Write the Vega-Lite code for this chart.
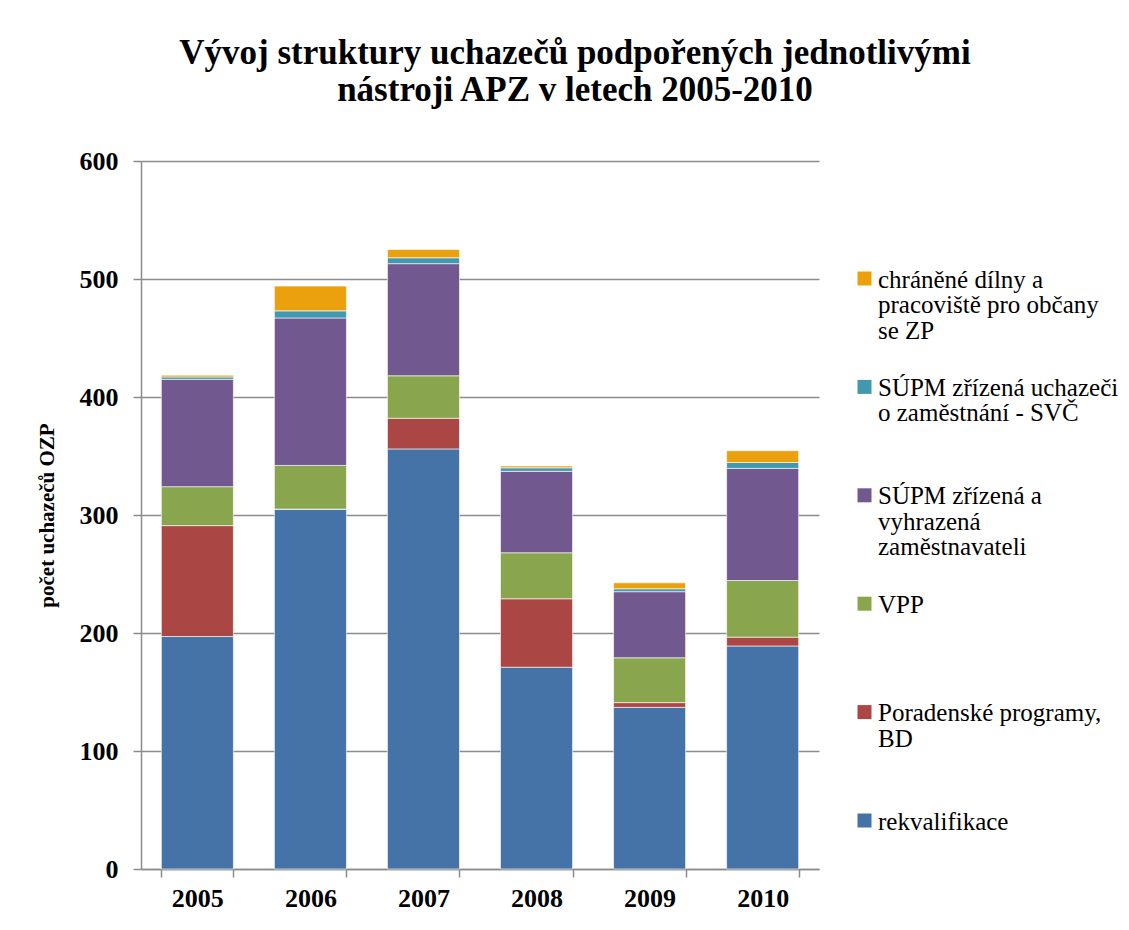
{
  "$schema": "https://vega.github.io/schema/vega-lite/v6.json",
  "width": 678,
  "height": 708,
  "autosize": {"type": "none"},
  "padding": {"left": 141, "top": 161, "right": 310, "bottom": 61},
  "background": "white",
  "title": {
    "text": ["Vývoj struktury uchazečů podpořených jednotlivými", "nástroji APZ v letech 2005-2010"],
    "font": "Liberation Serif",
    "fontSize": 35,
    "fontWeight": "bold",
    "color": "black",
    "anchor": "middle",
    "dx": 95,
    "lineHeight": 37,
    "offset": 40
  },
  "data": {
    "values": [
      {"rok": "2005", "kategorie": "rekvalifikace", "poradi": 1, "pocet": 197},
      {"rok": "2005", "kategorie": "Poradenské programy, BD", "poradi": 2, "pocet": 94},
      {"rok": "2005", "kategorie": "VPP", "poradi": 3, "pocet": 33},
      {"rok": "2005", "kategorie": "SÚPM zřízená a vyhrazená zaměstnavateli", "poradi": 4, "pocet": 91},
      {"rok": "2005", "kategorie": "SÚPM zřízená uchazeči o zaměstnání - SVČ", "poradi": 5, "pocet": 2},
      {"rok": "2005", "kategorie": "chráněné dílny a pracoviště pro občany se ZP", "poradi": 6, "pocet": 1.5},
      {"rok": "2006", "kategorie": "rekvalifikace", "poradi": 1, "pocet": 305},
      {"rok": "2006", "kategorie": "Poradenské programy, BD", "poradi": 2, "pocet": 0},
      {"rok": "2006", "kategorie": "VPP", "poradi": 3, "pocet": 37},
      {"rok": "2006", "kategorie": "SÚPM zřízená a vyhrazená zaměstnavateli", "poradi": 4, "pocet": 125},
      {"rok": "2006", "kategorie": "SÚPM zřízená uchazeči o zaměstnání - SVČ", "poradi": 5, "pocet": 6},
      {"rok": "2006", "kategorie": "chráněné dílny a pracoviště pro občany se ZP", "poradi": 6, "pocet": 21},
      {"rok": "2007", "kategorie": "rekvalifikace", "poradi": 1, "pocet": 356},
      {"rok": "2007", "kategorie": "Poradenské programy, BD", "poradi": 2, "pocet": 26},
      {"rok": "2007", "kategorie": "VPP", "poradi": 3, "pocet": 36},
      {"rok": "2007", "kategorie": "SÚPM zřízená a vyhrazená zaměstnavateli", "poradi": 4, "pocet": 95},
      {"rok": "2007", "kategorie": "SÚPM zřízená uchazeči o zaměstnání - SVČ", "poradi": 5, "pocet": 5},
      {"rok": "2007", "kategorie": "chráněné dílny a pracoviště pro občany se ZP", "poradi": 6, "pocet": 7},
      {"rok": "2008", "kategorie": "rekvalifikace", "poradi": 1, "pocet": 171},
      {"rok": "2008", "kategorie": "Poradenské programy, BD", "poradi": 2, "pocet": 58},
      {"rok": "2008", "kategorie": "VPP", "poradi": 3, "pocet": 39},
      {"rok": "2008", "kategorie": "SÚPM zřízená a vyhrazená zaměstnavateli", "poradi": 4, "pocet": 69},
      {"rok": "2008", "kategorie": "SÚPM zřízená uchazeči o zaměstnání - SVČ", "poradi": 5, "pocet": 3},
      {"rok": "2008", "kategorie": "chráněné dílny a pracoviště pro občany se ZP", "poradi": 6, "pocet": 1.5},
      {"rok": "2009", "kategorie": "rekvalifikace", "poradi": 1, "pocet": 137},
      {"rok": "2009", "kategorie": "Poradenské programy, BD", "poradi": 2, "pocet": 4},
      {"rok": "2009", "kategorie": "VPP", "poradi": 3, "pocet": 38},
      {"rok": "2009", "kategorie": "SÚPM zřízená a vyhrazená zaměstnavateli", "poradi": 4, "pocet": 56},
      {"rok": "2009", "kategorie": "SÚPM zřízená uchazeči o zaměstnání - SVČ", "poradi": 5, "pocet": 2.5},
      {"rok": "2009", "kategorie": "chráněné dílny a pracoviště pro občany se ZP", "poradi": 6, "pocet": 5},
      {"rok": "2010", "kategorie": "rekvalifikace", "poradi": 1, "pocet": 189},
      {"rok": "2010", "kategorie": "Poradenské programy, BD", "poradi": 2, "pocet": 7.5},
      {"rok": "2010", "kategorie": "VPP", "poradi": 3, "pocet": 48},
      {"rok": "2010", "kategorie": "SÚPM zřízená a vyhrazená zaměstnavateli", "poradi": 4, "pocet": 95},
      {"rok": "2010", "kategorie": "SÚPM zřízená uchazeči o zaměstnání - SVČ", "poradi": 5, "pocet": 5},
      {"rok": "2010", "kategorie": "chráněné dílny a pracoviště pro občany se ZP", "poradi": 6, "pocet": 10}
    ]
  },
  "mark": {"type": "bar", "stroke": "white", "strokeWidth": 1, "strokeOpacity": 0.6},
  "encoding": {
    "x": {
      "field": "rok",
      "type": "nominal",
      "scale": {"paddingInner": 0.363, "paddingOuter": 0.18},
      "axis": {
        "title": null,
        "labelAngle": 0,
        "labelFont": "Liberation Serif",
        "labelFontSize": 26,
        "labelFontWeight": "bold",
        "labelColor": "black",
        "labelPadding": -1,
        "tickBand": "extent",
        "tickSize": 8,
        "tickColor": "#8c8c8c",
        "tickWidth": 1.5,
        "domainColor": "#8c8c8c",
        "domainWidth": 1.5,
        "grid": false
      }
    },
    "y": {
      "field": "pocet",
      "type": "quantitative",
      "stack": "zero",
      "scale": {"domain": [0, 600], "nice": false},
      "axis": {
        "title": "počet uchazečů OZP",
        "titleFont": "Liberation Serif",
        "titleFontSize": 21,
        "titleFontWeight": "bold",
        "titleColor": "black",
        "titlePadding": 22,
        "values": [0, 100, 200, 300, 400, 500, 600],
        "labelFont": "Liberation Serif",
        "labelFontSize": 26,
        "labelFontWeight": "bold",
        "labelColor": "black",
        "labelPadding": 15,
        "labelOffset": -9,
        "tickSize": 8,
        "tickColor": "#8c8c8c",
        "tickWidth": 1.5,
        "domainColor": "#8c8c8c",
        "domainWidth": 1.5,
        "grid": true,
        "gridColor": "#8c8c8c",
        "gridWidth": 1.5
      }
    },
    "order": {"field": "poradi", "type": "quantitative", "sort": "ascending"},
    "color": {
      "field": "kategorie",
      "type": "nominal",
      "scale": {
        "domain": [
          "rekvalifikace",
          "Poradenské programy, BD",
          "VPP",
          "SÚPM zřízená a vyhrazená zaměstnavateli",
          "SÚPM zřízená uchazeči o zaměstnání - SVČ",
          "chráněné dílny a pracoviště pro občany se ZP"
        ],
        "range": ["#4572A7", "#AA4643", "#89A54E", "#71588F", "#4198AF", "#EBA00E"]
      },
      "legend": {
        "title": null,
        "orient": "none",
        "legendX": 711,
        "legendY": 105,
        "values": [
          "chráněné dílny a pracoviště pro občany se ZP",
          "SÚPM zřízená uchazeči o zaměstnání - SVČ",
          "SÚPM zřízená a vyhrazená zaměstnavateli",
          "VPP",
          "Poradenské programy, BD",
          "rekvalifikace"
        ],
        "labelExpr": "datum.label == 'chráněné dílny a pracoviště pro občany se ZP' ? ['chráněné dílny a', 'pracoviště pro občany', 'se ZP'] : datum.label == 'SÚPM zřízená uchazeči o zaměstnání - SVČ' ? ['SÚPM zřízená uchazeči', 'o zaměstnání - SVČ', ''] : datum.label == 'SÚPM zřízená a vyhrazená zaměstnavateli' ? ['SÚPM zřízená a', 'vyhrazená', 'zaměstnavateli'] : datum.label == 'Poradenské programy, BD' ? ['Poradenské programy,', 'BD', ''] : [datum.label, '', '']",
        "labelFont": "Liberation Serif",
        "labelFontSize": 25,
        "labelFontWeight": "normal",
        "labelColor": "black",
        "labelLimit": 400,
        "labelOffset": 1,
        "labelBaseline": "alphabetic",
        "symbolType": "square",
        "symbolSize": 196,
        "symbolStrokeWidth": 0,
        "rowPadding": 30.4
      }
    }
  },
  "config": {
    "view": {"stroke": null},
    "legend": {"labelFont": "Liberation Serif"},
    "style": {"guide-label": {"lineHeight": 25.5, "dy": 9, "font": "Liberation Serif"}}
  }
}
